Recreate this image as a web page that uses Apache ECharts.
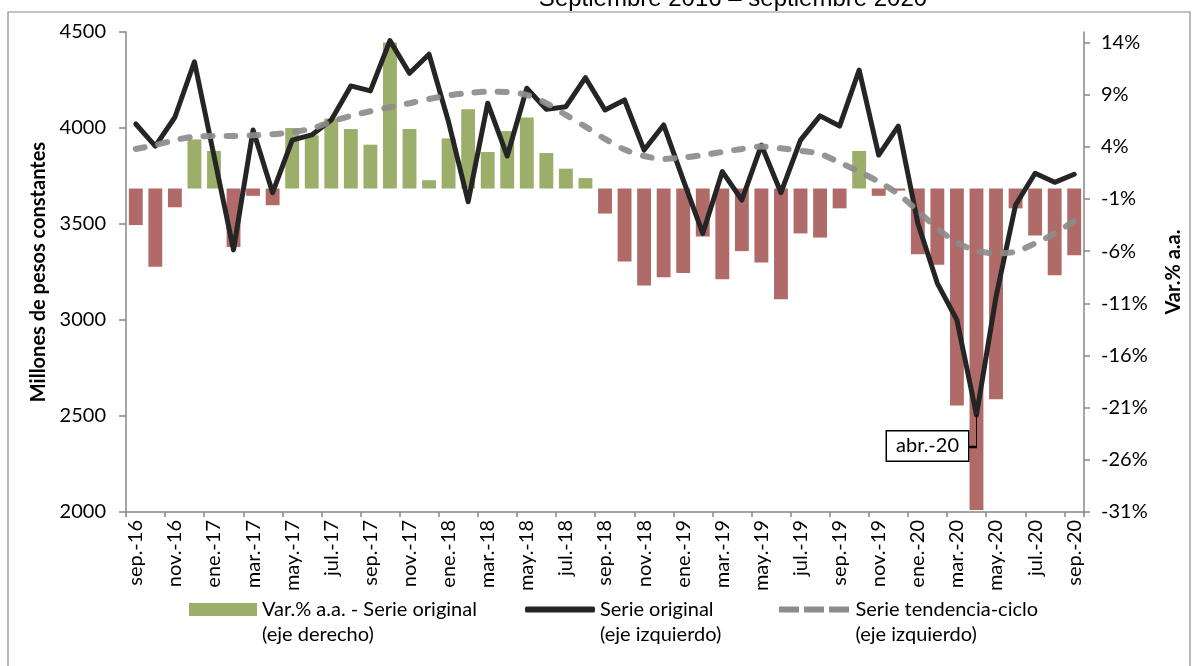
<!DOCTYPE html>
<head>
    <meta charset="utf-8"/>
    <style>
        html, body {
            margin: 0;
            height: 100%;
            background-color: #fff;
        }
    </style>
    <script src="https://cdn.jsdelivr.net/npm/echarts@6/dist/echarts.min.js"></script>
</head>
<body>
<div id="main" style="width: 1192px; height: 666px;"></div>
<script type="text/javascript">
    // meses sep-16 .. sep-20
    var meses = ['sep.-16', 'oct.-16', 'nov.-16', 'dic.-16', 'ene.-17', 'feb.-17', 'mar.-17', 'abr.-17',
        'may.-17', 'jun.-17', 'jul.-17', 'ago.-17', 'sep.-17', 'oct.-17', 'nov.-17', 'dic.-17',
        'ene.-18', 'feb.-18', 'mar.-18', 'abr.-18', 'may.-18', 'jun.-18', 'jul.-18', 'ago.-18',
        'sep.-18', 'oct.-18', 'nov.-18', 'dic.-18', 'ene.-19', 'feb.-19', 'mar.-19', 'abr.-19',
        'may.-19', 'jun.-19', 'jul.-19', 'ago.-19', 'sep.-19', 'oct.-19', 'nov.-19', 'dic.-19',
        'ene.-20', 'feb.-20', 'mar.-20', 'abr.-20', 'may.-20', 'jun.-20', 'jul.-20', 'ago.-20',
        'sep.-20'];
    // Var.% a.a. (eje derecho)
    var varPct = [-3.5, -7.5, -1.8, 4.7, 3.6, -5.6, -0.7, -1.6,
        5.8, 5.1, 6.7, 5.7, 4.2, 14.0, 5.7, 0.8,
        4.8, 7.6, 3.5, 5.5, 6.8, 3.4, 1.9, 1.0,
        -2.4, -7.0, -9.3, -8.5, -8.1, -4.6, -8.7, -6.0,
        -7.1, -10.6, -4.3, -4.7, -1.9, 3.6, -0.7, -0.2,
        -6.3, -7.3, -20.8, -30.8, -20.2, -1.9, -4.5, -8.3,
        -6.4];
    // Serie original, millones de pesos constantes
    var serieOriginal = [4021, 3906, 4056, 4345, 3855, 3365, 3990, 3663,
        3937, 3964, 4042, 4219, 4193, 4455, 4285, 4384,
        4031, 3616, 4129, 3854, 4207, 4097, 4111, 4262,
        4094, 4146, 3885, 4016, 3730, 3451, 3773, 3625,
        3911, 3663, 3937, 4063, 4010, 4302, 3859, 4010,
        3504, 3191, 3000, 2505, 3121, 3599, 3764, 3717,
        3759];
    // Serie tendencia-ciclo
    var tendencia = [3891, 3911, 3937, 3955, 3958, 3958, 3962, 3967,
        3979, 3997, 4033, 4063, 4087, 4108, 4129, 4151,
        4170, 4182, 4189, 4188, 4172, 4129, 4068, 4007,
        3943, 3888, 3854, 3839, 3846, 3859, 3875, 3891,
        3903, 3894, 3882, 3865, 3820, 3773, 3720, 3656,
        3569, 3477, 3403, 3361, 3347, 3356, 3399, 3451,
        3517];
    var ticksDerecho = [-31, -26, -21, -16, -11, -6, -1, 4, 9, 14];
    var mesNota = 'abr.-20';

    var verde = '#9BAF6B';
    var rojo = '#B06A67';
    var fuente = 'Lato';
    var tam = 20;
    var gris = '#868686';

    var barData = varPct.map(function (v) {
        return v < 0 ? {value: v, itemStyle: {color: rojo}} : v;
    });
    var iNota = meses.indexOf(mesNota);

    // linea vacia arriba: asi la 1a linea del texto queda centrada con el icono
    var legendText = {
        color: '#000',
        fontFamily: fuente,
        fontSize: tam,
        lineHeight: 25
    };
    function dosLineas(sub) {
        return function (n) { return '\n' + n + '\n' + sub; };
    }

    var myChart = echarts.init(document.getElementById('main'), null, {renderer: 'canvas'});
    var options = {
        animation: false,
        graphic: [
            {
                type: 'rect',
                shape: {x: 8, y: 12, width: 1182, height: 700},
                style: {fill: 'none', stroke: '#8a8a8a', lineWidth: 1.2},
                silent: true
            },
            {
                type: 'text',
                style: {
                    text: 'Septiembre 2016 – septiembre 2020',
                    x: 733, y: 11,
                    textAlign: 'center', align: 'center',
                    textVerticalAlign: 'bottom', verticalAlign: 'bottom',
                    font: '24px "Liberation Sans"',
                    fill: '#000'
                },
                silent: true
            }
        ],
        legend: [
            {
                data: ['Var.% a.a. - Serie original'],
                left: 189, top: 572, padding: 0,
                itemWidth: 68, itemHeight: 13,
                icon: 'rect',
                selectedMode: false,
                formatter: dosLineas('(eje derecho)'),
                textStyle: legendText
            },
            {
                data: [{name: 'Serie original', icon: 'roundRect'}],
                left: 525, top: 572, padding: 0,
                itemWidth: 70, itemHeight: 6,
                selectedMode: false,
                formatter: dosLineas('(eje izquierdo)'),
                textStyle: legendText
            },
            {
                data: [{
                    name: 'Serie tendencia-ciclo',
                    icon: 'path://M0,0h20v6h-20z M25,0h20v6h-20z M50,0h20v6h-20z'
                }],
                left: 779, top: 572, padding: 0,
                itemWidth: 73, itemHeight: 6,
                selectedMode: false,
                formatter: dosLineas('(eje izquierdo)'),
                textStyle: legendText
            }
        ],
        grid: {
            left: 126,
            right: 105,
            top: 32,
            bottom: 154,
            containLabel: false
        },
        xAxis: {
            type: 'category',
            data: meses,
            boundaryGap: true,
            axisLine: {onZero: false, lineStyle: {color: gris, width: 1.5}},
            axisTick: {show: true, interval: 1, length: 5, lineStyle: {color: gris, width: 1.5}},
            axisLabel: {
                interval: 1,
                rotate: 90,
                margin: 8,
                color: '#000',
                fontFamily: fuente,
                fontSize: tam
            },
            splitLine: {show: false}
        },
        yAxis: [
            {
                type: 'value',
                min: 2000,
                max: 4500,
                interval: 500,
                position: 'left',
                name: 'Millones de pesos constantes',
                nameLocation: 'middle',
                nameRotate: 90,
                nameGap: 66,
                nameTextStyle: {color: '#000', fontFamily: fuente, fontSize: tam, fontWeight: 'bold'},
                axisLine: {show: true, lineStyle: {color: gris, width: 1.5}},
                axisTick: {show: true, length: 7, lineStyle: {color: gris, width: 1.5}},
                axisLabel: {
                    color: '#000', fontFamily: fuente, fontSize: tam, margin: 20,
                    formatter: function (v) { return String(v); }
                },
                splitLine: {show: false}
            },
            {
                type: 'value',
                min: -31,
                max: 15,
                position: 'right',
                name: 'Var.% a.a.',
                nameLocation: 'middle',
                nameRotate: 90,
                nameGap: 80,
                nameTextStyle: {color: '#000', fontFamily: fuente, fontSize: tam, fontWeight: 'bold'},
                axisLine: {show: true, lineStyle: {color: gris, width: 1.5}},
                axisTick: {show: true, length: 6, customValues: ticksDerecho, lineStyle: {color: gris, width: 1.5}},
                axisLabel: {
                    customValues: ticksDerecho,
                    color: '#000', fontFamily: fuente, fontSize: tam, margin: 17,
                    formatter: '{value}%'
                },
                splitLine: {show: false}
            }
        ],
        series: [
            {
                name: 'Var.% a.a. - Serie original',
                type: 'bar',
                yAxisIndex: 1,
                barWidth: '71%',
                itemStyle: {color: verde},
                data: barData,
                z: 1
            },
            {
                name: 'Serie original',
                type: 'line',
                yAxisIndex: 0,
                symbol: 'none',
                color: '#252525',
                lineStyle: {color: '#252525', width: 5, cap: 'round', join: 'round'},
                data: serieOriginal,
                z: 3,
                markPoint: {
                    silent: true,
                    symbol: 'path://M11,0 L11,32 L0,32',
                    symbolSize: [11, 32],
                    symbolKeepAspect: false,
                    symbolOffset: [-5.5, 16],
                    itemStyle: {color: 'none', borderColor: '#000', borderWidth: 1.5},
                    label: {
                        show: true,
                        position: 'left',
                        distance: 0,
                        offset: [4, 15],
                        formatter: mesNota,
                        color: '#000',
                        fontFamily: fuente,
                        fontSize: tam,
                        backgroundColor: '#fff',
                        borderColor: '#000',
                        borderWidth: 1.5,
                        padding: [5, 9, 4, 9]
                    },
                    data: [{coord: [mesNota, serieOriginal[iNota]]}]
                }
            },
            {
                name: 'Serie tendencia-ciclo',
                type: 'line',
                yAxisIndex: 0,
                symbol: 'none',
                smooth: 0.3,
                color: '#8c8c8c',
                lineStyle: {color: '#8c8c8c', width: 6, type: [9, 14], cap: 'round', opacity: 0.92},
                data: tendencia,
                z: 4
            }
        ]
    };
    myChart.setOption(options);
</script>
</body>
